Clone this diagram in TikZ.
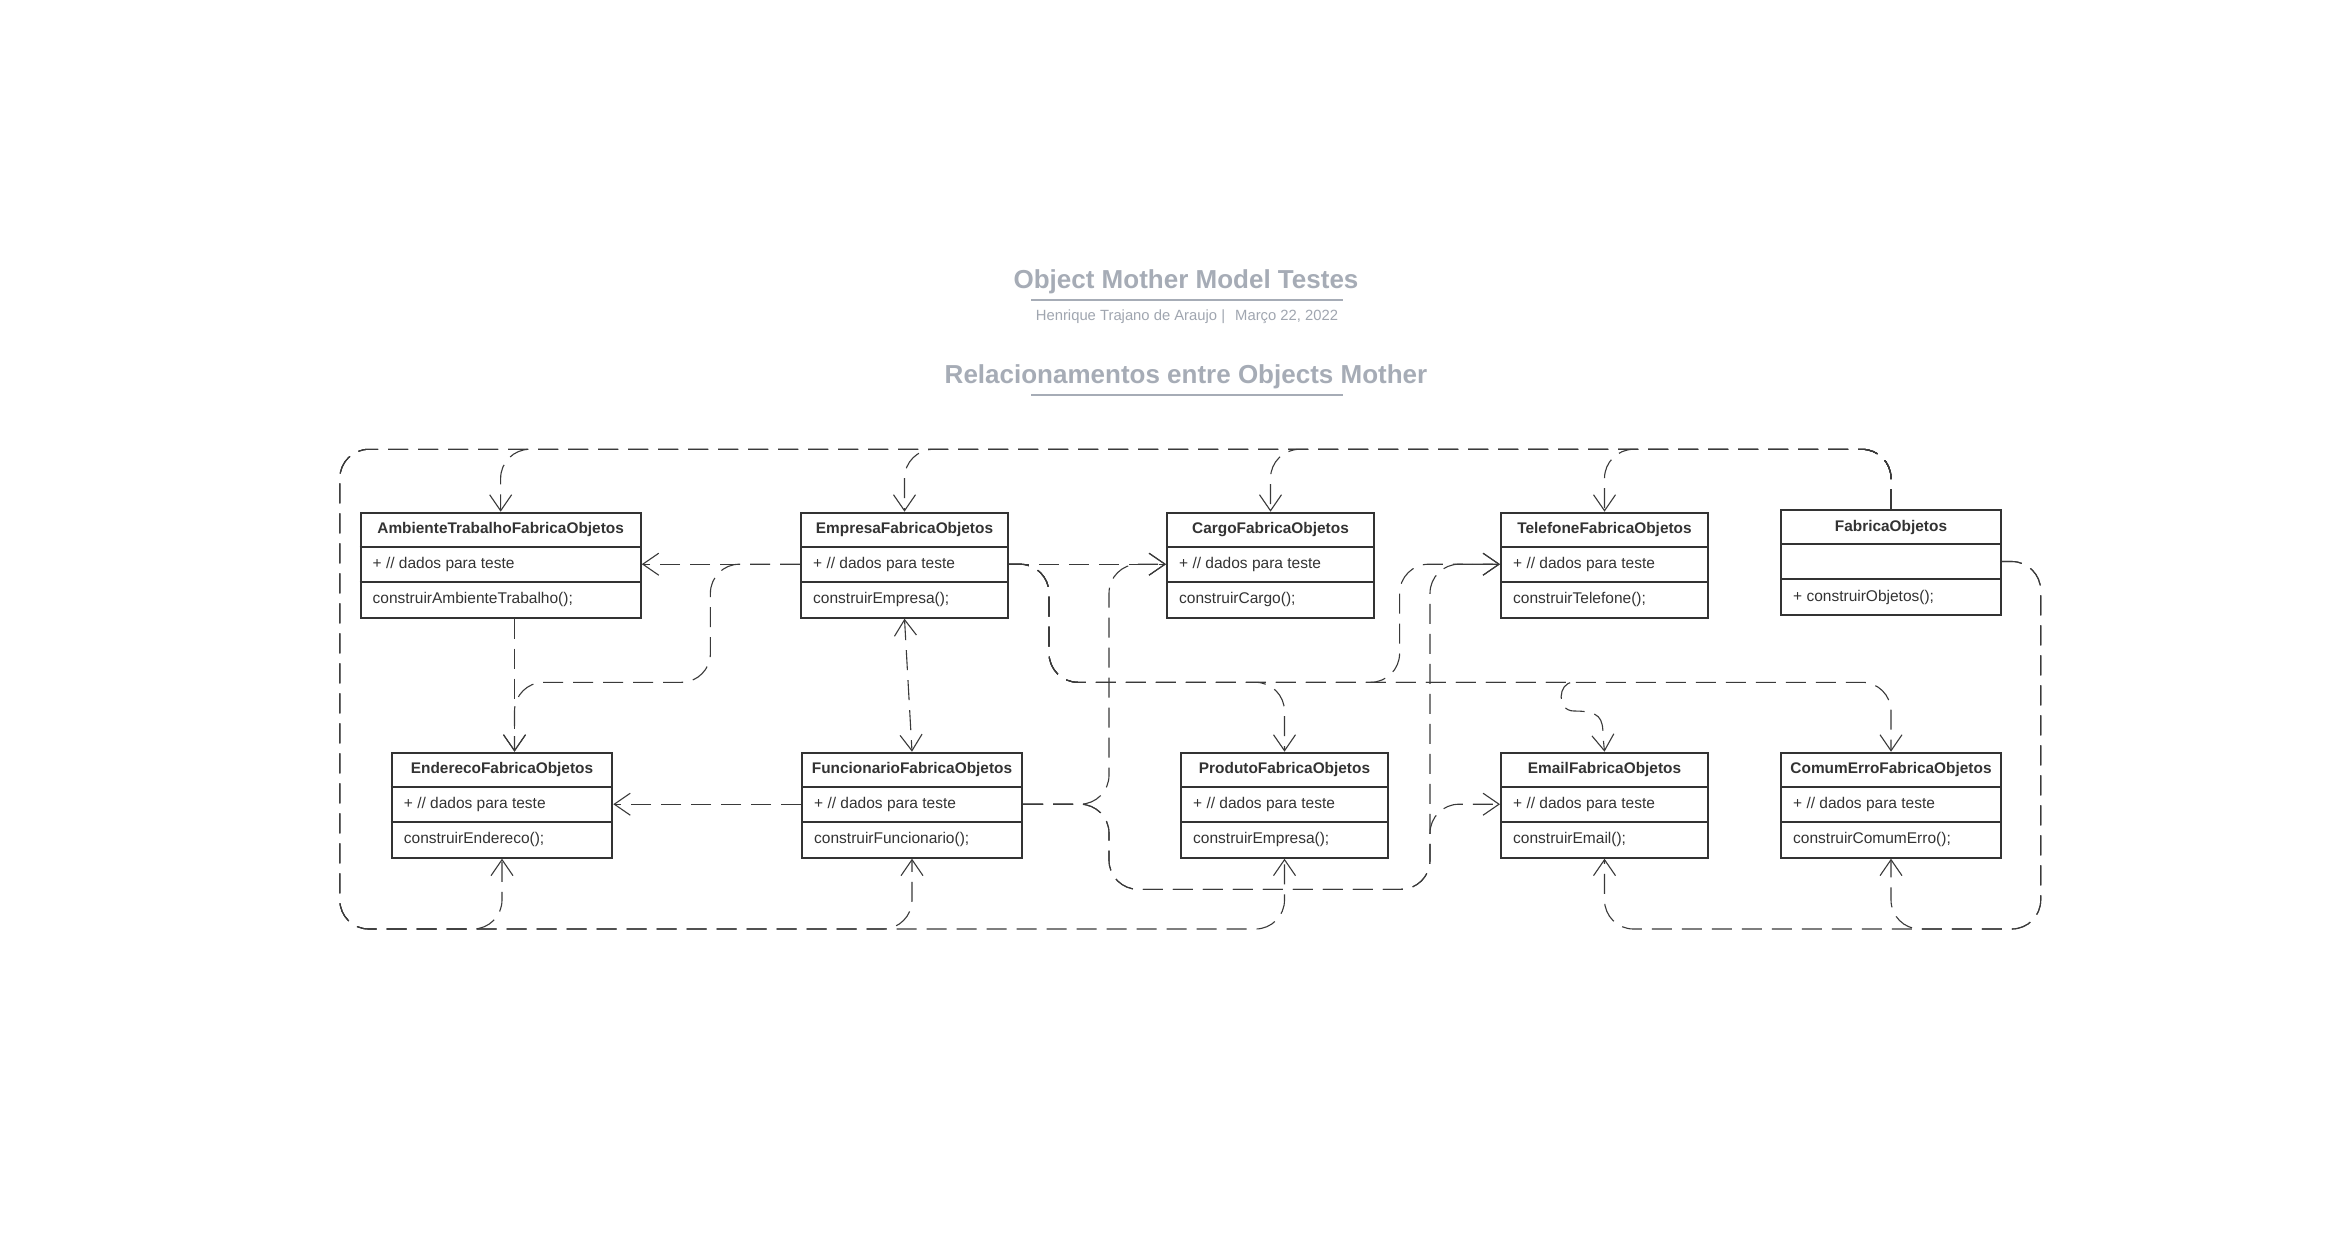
\documentclass[tikz,border=0pt]{standalone}
\usepackage{fontspec}
\setmainfont{Liberation Sans}
\usetikzlibrary{arrows.meta}
\definecolor{ink}{HTML}{333333}
\definecolor{lnk}{HTML}{3A3A3A}
\definecolor{ttlc}{HTML}{A6ACB6}
\definecolor{subc}{HTML}{A0A6B0}
\newcommand{\umlclass}[7]{%
  \node[box, minimum width=#4pt] (#1) at (#2,#3) {};
  \draw[draw=ink, line width=2pt] ([yshift=-35pt]#1.north west) -- ([yshift=-35pt]#1.north east);
  \draw[draw=ink, line width=2pt] ([yshift=-70pt]#1.north west) -- ([yshift=-70pt]#1.north east);
  \node[hdr] (#1-h) at ([yshift=-22pt]#1.north) {#5};
  \node[rowt] (#1-a) at ([xshift=13pt,yshift=-57pt]#1.north west) {#6};
  \node[rowt] (#1-b) at ([xshift=13pt,yshift=-92pt]#1.north west) {#7};
}
\newcommand{\rowcoords}[1]{%
  \coordinate (#1-l1) at ([yshift=-52.5pt]#1.north west);
  \coordinate (#1-r1) at ([yshift=-52.5pt]#1.north east);
}
\begin{document}
\begin{tikzpicture}[x=1pt,y=-1pt,
  box/.style={draw=ink, line width=2pt, fill=white, inner sep=0pt, minimum height=105pt, anchor=north west},
  hdr/.style={font=\fontsize{15.4}{18}\selectfont\bfseries, text=ink, anchor=base, inner sep=0pt},
  rowt/.style={font=\fontsize{15.5}{18}\selectfont, text=ink, anchor=base west, inner sep=0pt},
  dep/.style={draw=lnk, line width=1.1pt, dash pattern=on 20pt off 10pt, rounded corners=29pt},
  arr/.style={-{Straight Barb[length=16pt,width=22pt]}},
  arrb/.style={{Straight Barb[length=16pt,width=22pt]}-{Straight Barb[length=16pt,width=22pt]}},
  ttl/.style={font=\fontsize{26}{30}\selectfont\bfseries, text=ttlc, anchor=base, inner sep=0pt},
  subt/.style={font=\fontsize{14.8}{18}\selectfont, text=subc, anchor=base, inner sep=0pt}
]
\useasboundingbox[fill=white] (0,0) rectangle (2347,1245);

% titles
\node[ttl] (t1) at (1186,288) {Object Mother Model Testes};
\draw[draw=ttlc, line width=2pt] (1031,300) -- (1343,300);
\node[subt] (t2) at (1187,320) {Henrique Trajano de Araujo |\hspace{6pt} Março 22, 2022};
\node[ttl] (t3) at (1186,383.3) {Relacionamentos entre Objects Mother};
\draw[draw=ttlc, line width=2pt] (1031,395.3) -- (1343,395.3);

% box placeholders (for coordinates), drawn again later on top
\begin{scope}[box/.append style={draw=none, fill=none}]
\node[box, minimum width=280.3pt] (amb) at (359.5,511.7) {};
\node[box, minimum width=207pt] (emp) at (800,511.7) {};
\node[box, minimum width=207pt] (car) at (1166,511.7) {};
\node[box, minimum width=207pt] (tel) at (1500,511.7) {};
\node[box, minimum width=220pt] (fab) at (1780,509) {};
\node[box, minimum width=220.6pt] (endr) at (390.7,751.7) {};
\node[box, minimum width=220pt] (fun) at (801,751.7) {};
\node[box, minimum width=207pt] (pro) at (1180,751.7) {};
\node[box, minimum width=207pt] (ema) at (1500,751.7) {};
\node[box, minimum width=220pt] (com) at (1780,751.7) {};
\end{scope}
\foreach \n in {amb,emp,car,tel,fab,endr,fun,pro,ema,com}{\rowcoords{\n}}

\coordinate (topbus) at (0,449.3);
\coordinate (botbus) at (0,929);
\coordinate (lowbus) at (0,889.3);
\coordinate (lft) at (339.8,0);
\coordinate (rgt) at (2040.7,0);
\coordinate (endt) at ([xshift=12.5pt]endr.north);
\coordinate (ambb) at (endt |- amb.south);
\coordinate (k1) at (710.4,682.3);
\coordinate (k2) at (1049,682.3);
\coordinate (k3) at (1399.6,682.3);
\coordinate (v1) at (1109,0);
\coordinate (v2) at (1430,0);

% FabricaObjetos -> top row
\foreach \n in {amb,emp,car,tel}{
  \draw[dep,arr] (fab.north) -- (fab.north |- topbus) -- (\n.north |- topbus) -- (\n.north);
}
% FabricaObjetos -> bottom left targets
\foreach \n in {endr,fun,pro}{
  \draw[dep,arr] (fab.north) -- (fab.north |- topbus) -- (lft |- topbus) -- (lft |- botbus) -- (\n.south |- botbus) -- (\n.south);
}
% FabricaObjetos -> right loop
\foreach \n in {com,ema}{
  \draw[dep,arr] (fab-r1) -- (rgt |- fab-r1) -- (rgt |- botbus) -- (\n.south |- botbus) -- (\n.south);
}

% Empresa links
\draw[dep,arr] (emp-l1) -- (amb-r1);
\draw[dep,arr] (emp-l1) -- (emp-l1 -| k1) -- (k1) -- (k1 -| endt) -- (endt);
\draw[dep,arr] (ambb) -- (endt);
\draw[dep,arrb] (emp.south) -- (fun.north);
\draw[dep,arr] (emp-r1) -- (car-l1);
\draw[dep,arr] (emp-r1) -- (emp-r1 -| k2) -- (k2) -- (k2 -| pro.north) -- (pro.north);
\draw[dep,arr] (emp-r1) -- (emp-r1 -| k2) -- (k2) -- (k3) -- (tel-l1 -| k3) -- (tel-l1);
\draw[dep,arr] (emp-r1) -- (emp-r1 -| k2) -- (k2) -- (k2 -| com.north) -- (com.north);
\draw[dep,arr] (emp-r1) -- (emp-r1 -| k2) -- (k2) -- (1544,682.3) [sharp corners]
   .. controls (1558,682.3) and (1556,711) .. (1574,711)
   .. controls (1600,711) and (1603,718) .. (1603,736) -- (ema.north);

% Funcionario links
\draw[dep,arr] (fun-l1) -- (endr-r1);
\draw[dep,arr] (fun-r1) -- (fun-r1 -| v1) -- (car-l1 -| v1) -- (car-l1);
\draw[dep,arr] (fun-r1) -- (fun-r1 -| v1) -- (v1 |- lowbus) -- (v2 |- lowbus) -- (tel-l1 -| v2) -- (tel-l1);
\draw[dep,arr] (fun-r1) -- (fun-r1 -| v1) -- (v1 |- lowbus) -- (v2 |- lowbus) -- (ema-l1 -| v2) -- (ema-l1);

% class boxes
\umlclass{amb}{359.5}{511.7}{280.3}{AmbienteTrabalhoFabricaObjetos}{+ // dados para teste}{construirAmbienteTrabalho();}
\umlclass{emp}{800}{511.7}{207}{EmpresaFabricaObjetos}{+ // dados para teste}{construirEmpresa();}
\umlclass{car}{1166}{511.7}{207}{CargoFabricaObjetos}{+ // dados para teste}{construirCargo();}
\umlclass{tel}{1500}{511.7}{207}{TelefoneFabricaObjetos}{+ // dados para teste}{construirTelefone();}
\umlclass{fab}{1780}{509}{220}{FabricaObjetos}{}{+ construirObjetos();}
\umlclass{endr}{390.7}{751.7}{220.6}{EnderecoFabricaObjetos}{+ // dados para teste}{construirEndereco();}
\umlclass{fun}{801}{751.7}{220}{FuncionarioFabricaObjetos}{+ // dados para teste}{construirFuncionario();}
\umlclass{pro}{1180}{751.7}{207}{ProdutoFabricaObjetos}{+ // dados para teste}{construirEmpresa();}
\umlclass{ema}{1500}{751.7}{207}{EmailFabricaObjetos}{+ // dados para teste}{construirEmail();}
\umlclass{com}{1780}{751.7}{220}{ComumErroFabricaObjetos}{+ // dados para teste}{construirComumErro();}
\end{tikzpicture}
\end{document}
